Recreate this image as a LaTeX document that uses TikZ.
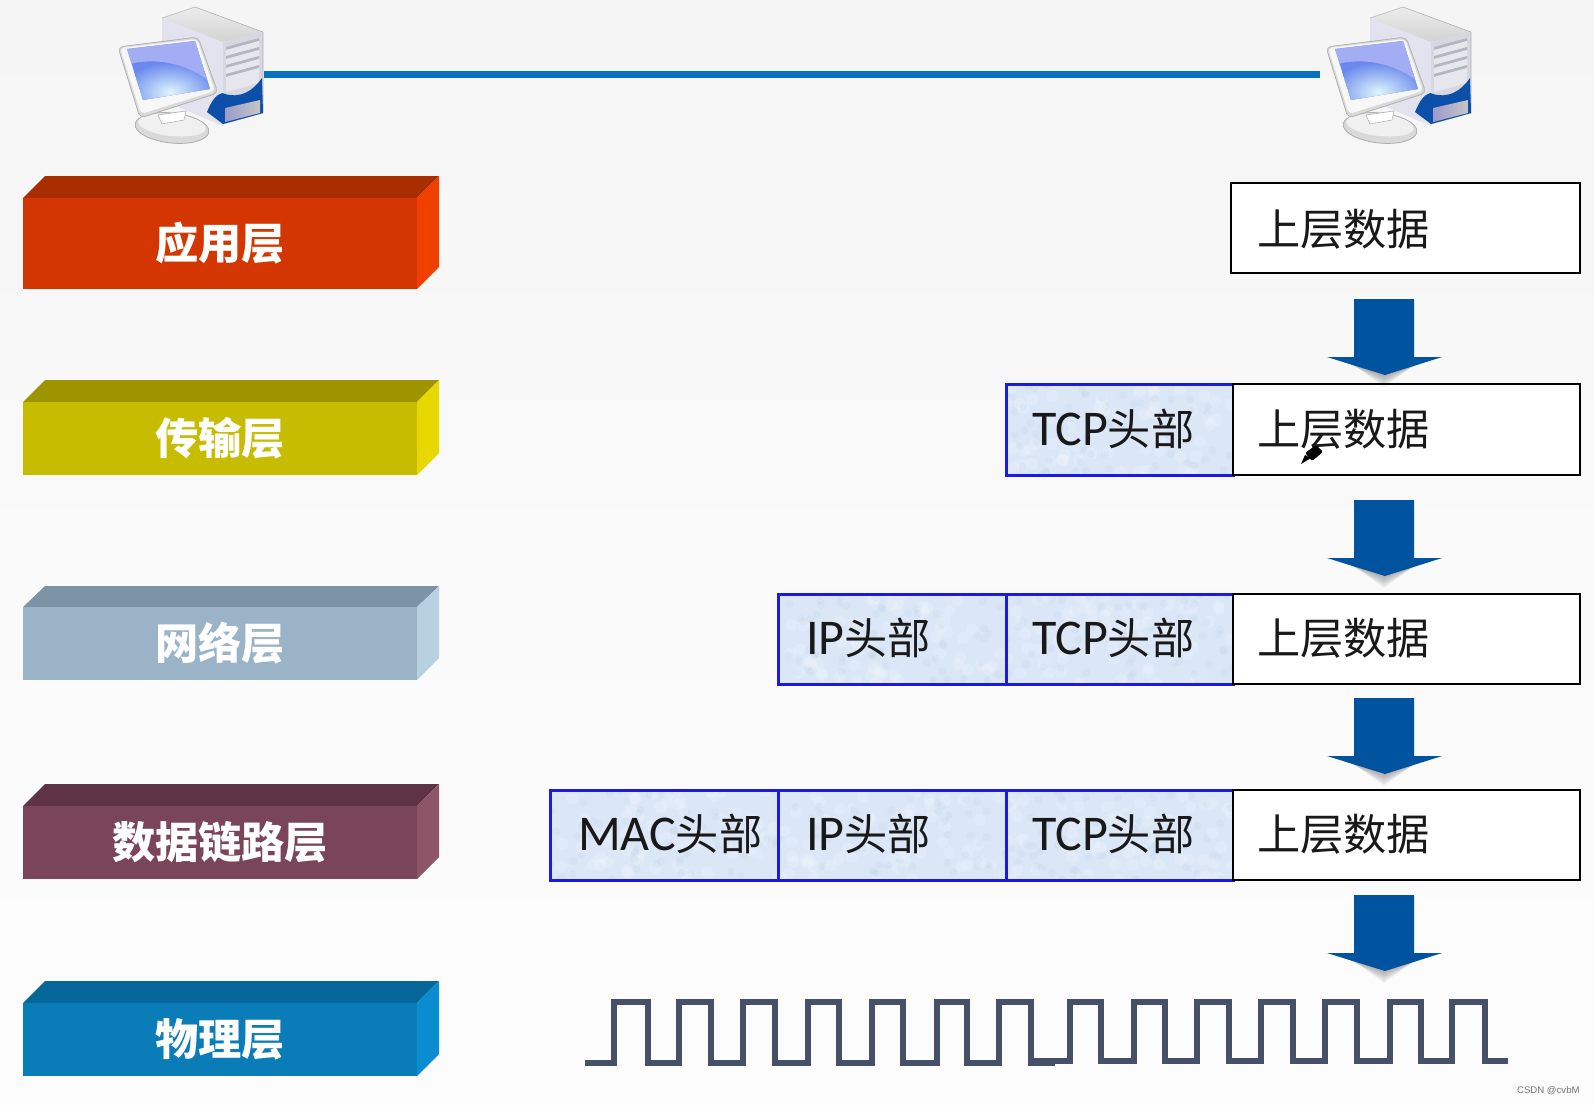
\documentclass[tikz,border=0pt]{standalone}
\usepackage{fontspec}
\setmainfont{Carlito}
\newfontfamily\cjk{Noto Sans CJK SC}
\newfontfamily\wm{Liberation Sans}
\definecolor{hdrblue}{HTML}{1A1AE0}
\definecolor{hdrfill}{HTML}{DBE7F7}
\definecolor{hdrspeck}{HTML}{BCCDE2}
\definecolor{arrowblue}{HTML}{00549F}
\definecolor{linkblue}{HTML}{0A70C0}
\definecolor{wavecol}{HTML}{475069}
\definecolor{towerside}{HTML}{E2E3EE}
\definecolor{towerfront}{HTML}{D6D7E0}
\definecolor{ventdark}{HTML}{B4B6C2}
\definecolor{ventlight}{HTML}{E6E6EC}
\definecolor{screenA}{HTML}{A3ADF4}
\definecolor{screenB}{HTML}{6A88EE}
\definecolor{screenC}{HTML}{DDF5FB}
\definecolor{basedark}{HTML}{0B4FA8}
\definecolor{appF}{HTML}{D33600}\definecolor{appT}{HTML}{A82E00}\definecolor{appS}{HTML}{F04000}
\definecolor{traF}{HTML}{C8BC00}\definecolor{traT}{HTML}{9E9400}\definecolor{traS}{HTML}{E6D800}
\definecolor{netF}{HTML}{9AB3C6}\definecolor{netT}{HTML}{7D94A6}\definecolor{netS}{HTML}{B8D0E0}
\definecolor{dlkF}{HTML}{7A4558}\definecolor{dlkT}{HTML}{5E3344}\definecolor{dlkS}{HTML}{8E5468}
\definecolor{phyF}{HTML}{0A7DB8}\definecolor{phyT}{HTML}{06679A}\definecolor{phyS}{HTML}{0A8CD0}
\tikzset{
  pxbox/.style={minimum width=#1*0.5pt,inner sep=0pt,outer sep=0pt},
  hdrcell/.style={draw=hdrblue,line width=1.5pt,fill=hdrfill,inner sep=0pt,outer sep=0pt,anchor=north west},
  datacell/.style={draw=black,line width=1.3pt,fill=white,inner sep=0pt,outer sep=0pt,anchor=north west},
  celltext/.style={anchor=west,inner sep=0pt,outer sep=0pt,text=black!90},
  blocklabel/.style={text=white,font=\cjk\bfseries\fontsize{21.6pt}{24pt}\selectfont,inner sep=0pt},
}
\newcommand{\pcicon}[1]{%
  \begin{scope}[shift={(#1,0)}]
    \fill[towerside] (162,18) -- (223,40) -- (223,126) -- (162,100) -- cycle;
    \shade[top color=white!85!gray,bottom color=gray!35] (162,18) -- (195,7) -- (263,32) -- (223,42) -- cycle;
    \fill[towerfront] (223,42) -- (263,32) -- (263,113) -- (223,124) -- cycle;
    \draw[gray!60,line width=.3pt,line join=round] (162,18) -- (195,7) -- (263,32) -- (263,113) -- (223,124);
    \foreach \i in {0,1,2,3,4}{
      \fill[ventdark] (226,{47+\i*9}) -- (259,{38+\i*9}) -- (259,{41+\i*9}) -- (226,{50+\i*9}) -- cycle;
      \fill[ventlight] (226,{50+\i*9}) -- (259,{41+\i*9}) -- (259,{47+\i*9}) -- (226,{56+\i*9}) -- cycle;
    }
    \fill[ventlight] (226,79) -- (259,69) -- (259,80) -- (226,90) -- cycle;
    \fill[basedark] (207,112) .. controls (212,100) and (216,95) .. (222,93) .. controls (232,97) and (248,98) .. (262,78) -- (263,113) -- (223,124) -- cycle;
    \shade[left color=blue!30!gray!60,right color=gray!45] (225,108) -- (260,100) -- (260,113) -- (225,122) -- cycle;
    \fill[gray!30,draw=gray!65,line width=.4pt,rotate around={-6:(172,128)}] (172,128) ellipse [x radius=18.5pt,y radius=7.5pt];
    \fill[gray!12,rotate around={-6:(172,125)}] (172,125) ellipse [x radius=17pt,y radius=5.5pt];
    \fill[white,draw=gray!60,line width=.3pt] (158,115) -- (186,111) -- (184,120) -- (162,124) -- cycle;
    \fill[gray!30,draw=gray!60,line width=.4pt,line join=round,rounded corners=2.5pt] (118,47) -- (198,37) -- (218,93) -- (140,118) -- cycle;
    \fill[white!94!gray,rounded corners=2pt] (120,48) -- (197,39) -- (215,91) -- (141,114) -- cycle;
    \begin{scope}
      \clip (127,49) -- (195,41) -- (210,89) -- (143,100) -- cycle;
      \fill[screenB] (115,35) rectangle (220,110);
      \shade[inner color=screenC,outer color=screenB] (170,92) ellipse [x radius=24pt,y radius=15pt];
      \fill[screenA] (125,65) .. controls (150,58) and (180,60) .. (208,80) -- (200,38) -- (125,38) -- cycle;
    \end{scope}
  \end{scope}
}
\newcommand{\bigarrow}[1]{%
  \begin{scope}[shift={(1384,#1)}]
    \foreach \k in {0,2,4,6,8,10,12}{
      \fill[black,opacity=.05] ({-50+\k},60) -- ({50-\k},60) -- (0,{76+\k}) -- cycle;
    }
    \fill[arrowblue] (-30,0) -- (30,0) -- (30,58) -- (58,58) -- (1,76) -- (-57,58) -- (-30,58) -- cycle;
  \end{scope}
}
\newcommand{\layerblock}[6]{% name, top, fronttop, bottom, colour prefix, text
  \fill[#5T] (23,#3) -- (45,#2) -- (439,#2) -- (417,#3) -- cycle;
  \fill[#5S] (417,#3) -- (439,#2) -- (439,{#4-22}) -- (417,#4) -- cycle;
  \fill[#5F] (23,#3) rectangle (417,#4);
  \node[blocklabel] (#1) at (220,{(#3+#4)/2}) {#6};
}
\newcommand{\hdrbox}[7]{% name, x0, x1, y0, y1, offset, latin text
  \node[hdrcell,minimum width={(#3-#2)*.5pt},minimum height={(#5-#4)*.5pt}] (#1) at (#2,#4) {};
  \begin{scope}
    \clip (#2,#4) rectangle (#3,#5);
    \foreach \q in {1,...,60}{
      \pgfmathsetmacro{\rx}{#2+rnd*(#3-#2)}\pgfmathsetmacro{\ry}{#4+rnd*(#5-#4)}
      \fill[white,opacity=.16] (\rx,\ry) circle (3pt);
      \pgfmathsetmacro{\rx}{#2+rnd*(#3-#2)}\pgfmathsetmacro{\ry}{#4+rnd*(#5-#4)}
      \fill[hdrspeck,opacity=.18] (\rx,\ry) circle (2pt);
    }
  \end{scope}
  \draw[hdrblue,line width=1.5pt] (#1.north west) rectangle (#1.south east);
  \node[celltext] (#1t) at ([xshift=#6*.5pt,yshift=.4pt]#1.west) {\fontsize{25pt}{26pt}\selectfont #7{\cjk\fontsize{21.6pt}{24pt}\selectfont 头部}};
}
\newcommand{\databox}[7]{% name,x0,x1,y0,y1,text dy,text dx
  \node[datacell,minimum width={(#3-#2)*.5pt},minimum height={(#5-#4)*.5pt}] (#1) at (#2,#4) {};
  \node[celltext] (#1t) at ([xshift=#7pt,yshift=#6pt]#1.west) {\cjk\fontsize{21.6pt}{24pt}\selectfont 上层数据};
}
\begin{document}
\begin{tikzpicture}[x=.5pt,y=-.5pt]
\useasboundingbox (0,0) rectangle (1594,1104);
\shade[top color=black!4,bottom color=black!1,middle color=black!2] (0,0) rectangle (1594,1104);
\pgfmathsetseed{7}

% computers and link
\pcicon{0}
\pcicon{1208}
\node[pxbox=146,minimum height=66pt] (pcL) at (191,74) {};
\node[pxbox=146,minimum height=66pt] (pcR) at (1399,74) {};
\draw[linkblue,line width=3.5pt] (pcL.east) -- ([xshift=-3pt]pcR.west);

% layers
\layerblock{app}{176}{198}{289}{app}{应用层}
\layerblock{tra}{380}{402}{475}{tra}{传输层}
\layerblock{net}{586}{607}{680}{net}{网络层}
\layerblock{dlk}{784}{806}{879}{dlk}{数据链路层}
\layerblock{phy}{981}{1003}{1076}{phy}{物理层}

% row 1
\databox{d1}{1231}{1580}{183}{273}{-.8}{13}
% row 2
\hdrbox{t2}{1006}{1233}{384}{475}{26}{TCP}
\databox{d2}{1233}{1580}{384}{475}{.2}{12}
% row 3
\hdrbox{i3}{778}{1006}{594}{684}{28}{IP}
\hdrbox{t3}{1006}{1233}{594}{684}{26}{TCP}
\databox{d3}{1233}{1580}{594}{684}{.4}{12}
% row 4
\hdrbox{m4}{550}{778}{790}{880}{28}{MAC}
\hdrbox{i4}{778}{1006}{790}{880}{28}{IP}
\hdrbox{t4}{1006}{1233}{790}{880}{26}{TCP}
\databox{d4}{1233}{1580}{790}{880}{.4}{12}

% arrows
\bigarrow{299}
\bigarrow{500}
\bigarrow{698}
\bigarrow{895}

% signal
\draw[wavecol,line width=3.4pt,line join=miter]
  (585,1063) -- (614,1063) -- (614,1002) -- (648,1002) -- (648,1063)
  -- (679,1063) -- (679,1002) -- (711,1002) -- (711,1063)
  -- (743,1063) -- (743,1002) -- (775,1002) -- (775,1063)
  -- (808,1063) -- (808,1002) -- (839,1002) -- (839,1063)
  -- (872,1063) -- (872,1002) -- (903,1002) -- (903,1063)
  -- (937,1063) -- (937,1002) -- (967,1002) -- (967,1063)
  -- (999,1063) -- (999,1002) -- (1031,1002) -- (1031,1063) -- (1055,1063);
\draw[wavecol,line width=3.4pt,line join=miter]
  (1031,1061) -- (1070,1061) -- (1070,1002) -- (1101,1002) -- (1101,1061)
  -- (1134,1061) -- (1134,1002) -- (1165,1002) -- (1165,1061)
  -- (1197,1061) -- (1197,1002) -- (1229,1002) -- (1229,1061)
  -- (1261,1061) -- (1261,1002) -- (1293,1002) -- (1293,1061)
  -- (1325,1061) -- (1325,1002) -- (1357,1002) -- (1357,1061)
  -- (1390,1061) -- (1390,1002) -- (1421,1002) -- (1421,1061)
  -- (1452,1061) -- (1452,1002) -- (1485,1002) -- (1485,1061) -- (1508,1061);

% pen cursor
\fill[black] (1301,464) -- (1305,455) -- (1311,458) -- cycle;
\fill[black,rounded corners=1pt] (1305,453) -- (1316,445) -- (1323,452) -- (1312,461) -- cycle;

% watermark
\node[anchor=east,inner sep=0pt,text=black!55,font=\wm\fontsize{4.8pt}{6pt}\selectfont] (wmk) at (1580,1091) {CSDN @cvbM};
\end{tikzpicture}
\end{document}
